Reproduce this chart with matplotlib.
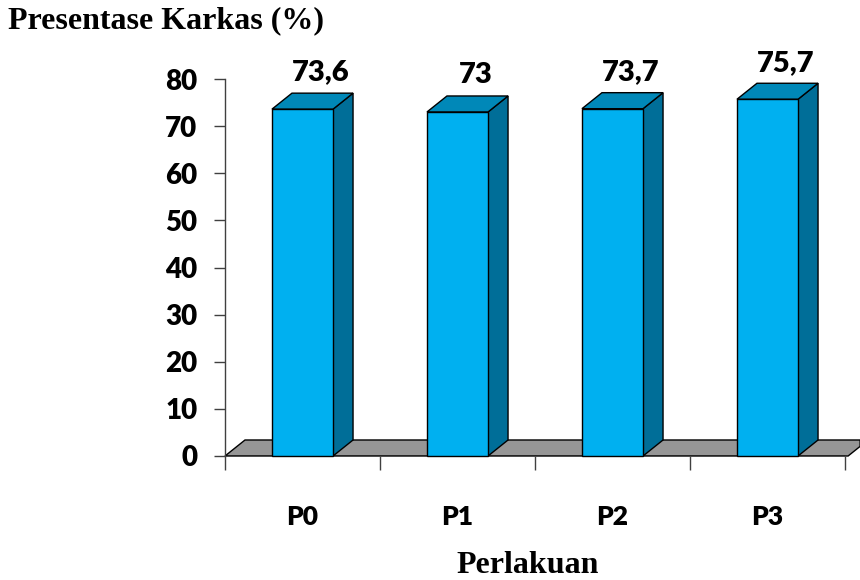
import matplotlib
matplotlib.use("Agg")
import matplotlib.pyplot as plt
from matplotlib.patches import Polygon
from matplotlib import font_manager

categories = ["P0", "P1", "P2", "P3"]
values = [73.6, 73.0, 73.7, 75.7]
value_labels = ["73,6", "73", "73,7", "75,7"]
yticks = [0, 10, 20, 30, 40, 50, 60, 70, 80]

title = "Presentase Karkas (%)"
xlabel = "Perlakuan"

FRONT = "#00B0F0"
TOP = "#0088B8"
SIDE = "#006E98"
FLOOR = "#969696"

# pick the heaviest Lato weight available
weights = [f.weight for f in font_manager.fontManager.ttflist if f.name == "Lato"]
num = [w if isinstance(w, int) else {"bold": 700, "heavy": 800, "black": 900}.get(w, 400)
       for w in weights]
LW = 800 if any(w >= 800 for w in num) else "bold"

W, H = 860, 580
fig = plt.figure(figsize=(W / 100, H / 100), dpi=100)
ax = fig.add_axes([225 / W, (H - 456) / H, 620 / W, 377 / H])
ax.set_xlim(-0.5, len(categories) - 0.5)
ax.set_ylim(0, 80)

dx = 20 / 155.0   # depth offset in category units
dy = 16 / 4.71    # depth offset in value units
half = 0.197

# floor
x0, x1 = -0.5, len(categories) - 0.5 + 0.02
floor = Polygon([(x0, 0), (x1, 0), (x1 + dx * 0.6, dy * 0.6), (x1 + dx * 0.6, dy),
                 (x0 + dx, dy)], closed=True, facecolor=FLOOR, edgecolor="black",
                lw=1.0, clip_on=False, zorder=1)
ax.add_patch(floor)

for i, v in enumerate(values):
    l, r = i - half, i + half
    side = Polygon([(r, 0), (r + dx, dy), (r + dx, v + dy), (r, v)], closed=True,
                   facecolor=SIDE, edgecolor="black", lw=1.0, clip_on=False, zorder=2)
    top = Polygon([(l, v), (r, v), (r + dx, v + dy), (l + dx, v + dy)], closed=True,
                  facecolor=TOP, edgecolor="black", lw=1.0, clip_on=False, zorder=2)
    ax.add_patch(side)
    ax.add_patch(top)
    ax.bar(i, v, width=2 * half, color=FRONT, edgecolor="black", lw=1.0,
           zorder=3, clip_on=False)
    ax.text(i + dx * 0.9, v + dy + 1.6, value_labels[i], ha="center", va="bottom",
            fontsize=21, fontweight=LW, family="Lato", zorder=4)

for s in ["top", "right", "bottom"]:
    ax.spines[s].set_visible(False)
ax.spines["left"].set_color("#404040")
ax.spines["left"].set_linewidth(1.0)

ax.set_yticks(yticks)
ax.set_yticklabels([str(t) for t in yticks], fontsize=20, fontweight=LW,
                   family="Lato")
ax.tick_params(axis="y", length=8, width=1, color="#404040", pad=12)

ax.set_xticks(range(len(categories)))
ax.set_xticklabels(categories, fontsize=19, fontweight=LW, family="Lato")
ax.set_xticks([k - 0.5 for k in range(len(categories) + 1)], minor=True)
ax.tick_params(axis="x", which="major", length=0, pad=35)
ax.tick_params(axis="x", which="minor", length=10, width=1, color="#404040")
ax.axhline(0, color="black", lw=1.0, zorder=1.5, xmax=1.0)

fig.text(528 / W, 7 / H, xlabel, fontsize=23, fontweight="bold",
         family="Liberation Serif", ha="center", va="baseline")

fig.text(8 / W, 1 - 21 / H, title, fontsize=23, fontweight="bold",
         family="Liberation Serif", ha="left", va="center")

fig.savefig("out.png", dpi=100)
